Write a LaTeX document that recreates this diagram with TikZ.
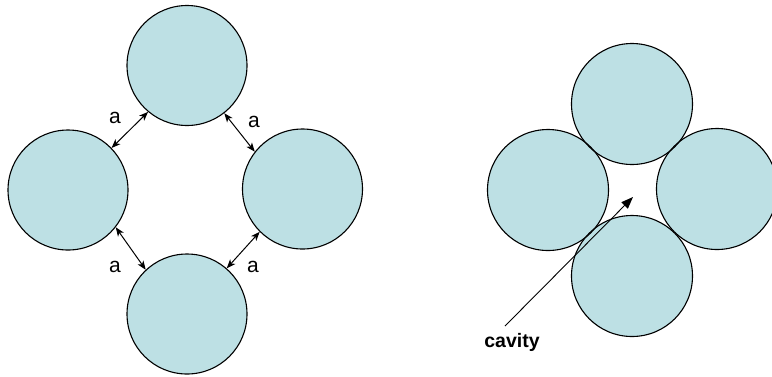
\documentclass[tikz,border=0pt]{standalone}
\usepackage{fontspec}
\setmainfont{Liberation Sans}
\usetikzlibrary{arrows.meta}
\definecolor{ball}{RGB}{189,224,228}
\begin{document}
\begin{tikzpicture}[x=1pt,y=-1pt,
  ballnode/.style={circle,draw=black,line width=1.1pt,minimum size=120pt,inner sep=0pt},
  gaparrow/.style={{Stealth[length=9pt,width=7pt,inset=2.5pt]}-{Stealth[length=9pt,width=7pt,inset=2.5pt]},line width=1pt},
  lbl/.style={font=\fontsize{21}{21}\selectfont,inner sep=0pt}]
\useasboundingbox (0,0) rectangle (772,376);
% left group
\foreach \p in {(187,65.5),(68,190),(302.5,189),(187,314)} {\fill[ball] \p circle (60pt);}
\node[ballnode] (t1) at (187,65.5) {};
\node[ballnode] (l1) at (68,190) {};
\node[ballnode] (r1) at (302.5,189) {};
\node[ballnode] (b1) at (187,314) {};
\draw[gaparrow] (t1.230) -- (l1.44);
\draw[gaparrow] (t1.308) -- (r1.142);
\draw[gaparrow] (l1.322) -- (b1.133);
\draw[gaparrow] (r1.225) -- (b1.49);
\node[lbl] (a1) at (115,118) {a};
\node[lbl] (a2) at (254,122) {a};
\node[lbl] (a3) at (115,267) {a};
\node[lbl] (a4) at (253,267) {a};
% right group
\foreach \p in {(632,104),(548,190),(717,189),(632,276)} {\fill[ball] \p circle (60.5pt);}
\node[ballnode,minimum size=121pt] (t2) at (632,104) {};
\node[ballnode,minimum size=121pt] (l2) at (548,190) {};
\node[ballnode,minimum size=121pt] (r2) at (717,189) {};
\node[ballnode,minimum size=121pt] (b2) at (632,276) {};
\node[font=\bfseries\fontsize{19.5}{19.5}\selectfont,inner sep=0pt] (cav) at (512,342) {cavity};
\coordinate (cs) at (505,326);
\coordinate (ct) at (633,197);
\draw[line width=0.9pt,-{Triangle[length=12pt,width=9pt]}] (cs) -- (ct);
\end{tikzpicture}
\end{document}
